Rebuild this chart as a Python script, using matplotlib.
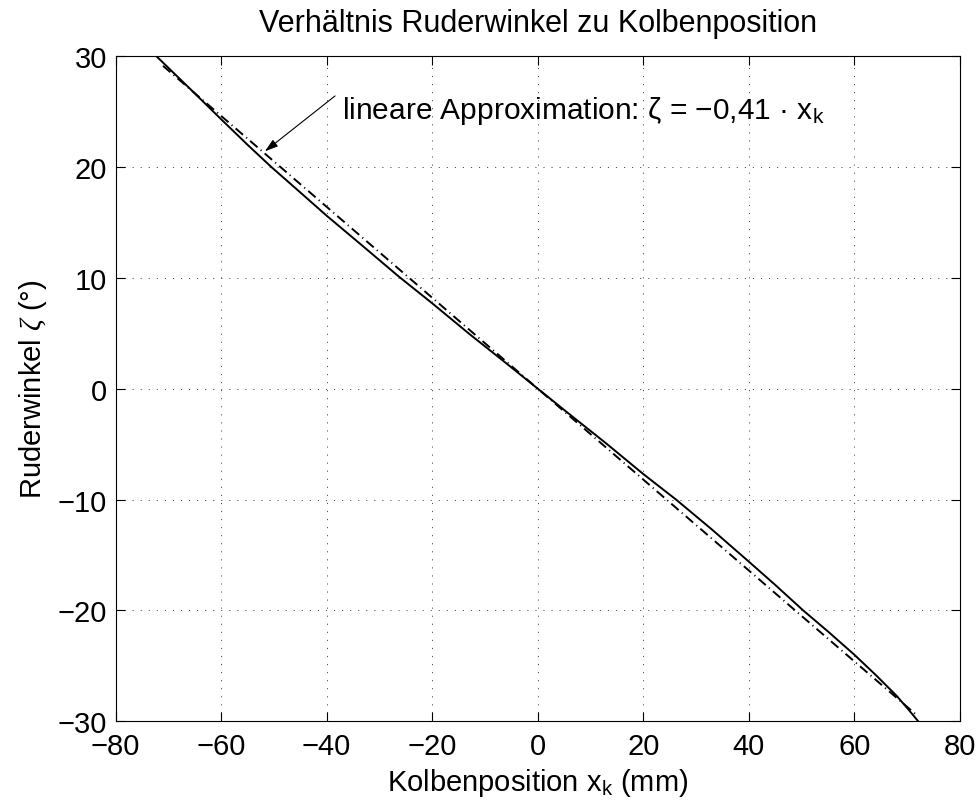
import numpy as np
import matplotlib
matplotlib.use('Agg')
import matplotlib.pyplot as plt

plt.rcParams['font.family'] = ['Liberation Sans', 'DejaVu Sans']
plt.rcParams['mathtext.fontset'] = 'custom'
plt.rcParams['mathtext.rm'] = 'Liberation Sans'
plt.rcParams['mathtext.it'] = 'Liberation Serif:italic'
plt.rcParams['lines.scale_dashes'] = False

kolben_pos = [-72.3, -66, -60, -55, -50.5, -45, -40, -33, -26.3, -20, -13, -6, 0,
              6, 13, 20, 26.2, 33, 40, 45, 50.3, 55, 60, 64, 68, 70, 72.1]
ruder_winkel = [30.0, 27.1, 24.3, 22.0, 20.0, 17.7, 15.6, 12.8, 10.1, 7.7, 4.95, 2.3, 0,
                -2.3, -4.95, -7.7, -10.0, -12.7, -15.6, -17.7, -20.0, -21.9, -24.0,
                -25.8, -27.7, -28.8, -30.0]

# lineare Approximation zeta = -0,41 * x_k
faktor = -0.41
approx_x = [-71.0, 72.0]

xticks = [-80, -60, -40, -20, 0, 20, 40, 60, 80]
yticks = [-30, -20, -10, 0, 10, 20, 30]

fig = plt.figure(figsize=(9.79, 8.12), dpi=100)
ax = fig.add_axes([0.118, 0.1105, 0.8625, 0.8193])

ax.plot(kolben_pos, ruder_winkel, color='k', lw=1.4)
ax.plot(approx_x, [faktor * v for v in approx_x], color='k', lw=1.4,
        linestyle=(0, (7, 3, 0.8, 3)))

ax.set_xlim(-80, 80)
ax.set_ylim(-30, 30)
ax.set_xticks(xticks)
ax.set_yticks(yticks)
ax.set_xticklabels([str(t).replace('-', '\u2212') for t in xticks])
ax.set_yticklabels([str(t).replace('-', '\u2212') for t in yticks])
ax.tick_params(direction='in', length=6.5, width=0.8, top=True, right=True,
               labelsize=21)
ax.tick_params(axis='x', pad=8)
ax.tick_params(axis='y', pad=6)
for s in ax.spines.values():
    s.set_linewidth(0.8)
ax.grid(True, color='0.3', lw=0.7, linestyle=(0, (0.8, 5)))

ax.set_title('Verh\u00e4ltnis Ruderwinkel zu Kolbenposition', fontsize=22, pad=18)
ax.set_xlabel(r'Kolbenposition $\mathrm{x_k}$ (mm)', fontsize=21, labelpad=4)
ax.set_ylabel('Ruderwinkel $\\zeta$ (\u00b0)', fontsize=21, labelpad=6)

# Pfeil und Beschriftung
ax.annotate('', xy=(-51.7, 21.4), xytext=(-38.4, 26.4),
            arrowprops=dict(arrowstyle='-|>,head_length=0.8,head_width=0.25',
                            color='k', lw=0.8, shrinkA=0, shrinkB=0))
ax.text(-37.0, 25.1, r'lineare Approximation: ζ = −0,41 · $\mathrm{x_k}$',
        fontsize=21.5, ha='left', va='center')

fig.savefig('out.png', dpi=100)
